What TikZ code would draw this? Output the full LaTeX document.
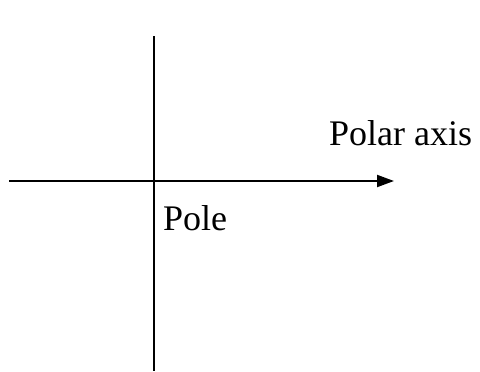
\documentclass[tikz,border=0pt]{standalone}
\usepackage{fontspec}
\setmainfont{Liberation Serif}
\usetikzlibrary{arrows.meta}
\tikzset{axisline/.style={black,line width=2pt},
  axislabel/.style={font=\fontsize{36}{40}\selectfont,inner sep=0pt,anchor=base west}}
\begin{document}
\begin{tikzpicture}[x=1pt,y=-1pt]
\useasboundingbox (0,0) rectangle (480,372);
\coordinate (top) at (153.5,36);
\coordinate (bottom) at (153.5,371);
\coordinate (left) at (9,181);
\coordinate (right) at (394,181);
\draw[axisline] (top) -- (bottom);
\draw[axisline,-{Triangle[length=17pt,width=12pt]}] (left) -- (right);
\node[axislabel] (polar) at (329,145) {Polar axis};
\node[axislabel] (pole) at (163,230) {Pole};
\end{tikzpicture}
\end{document}
